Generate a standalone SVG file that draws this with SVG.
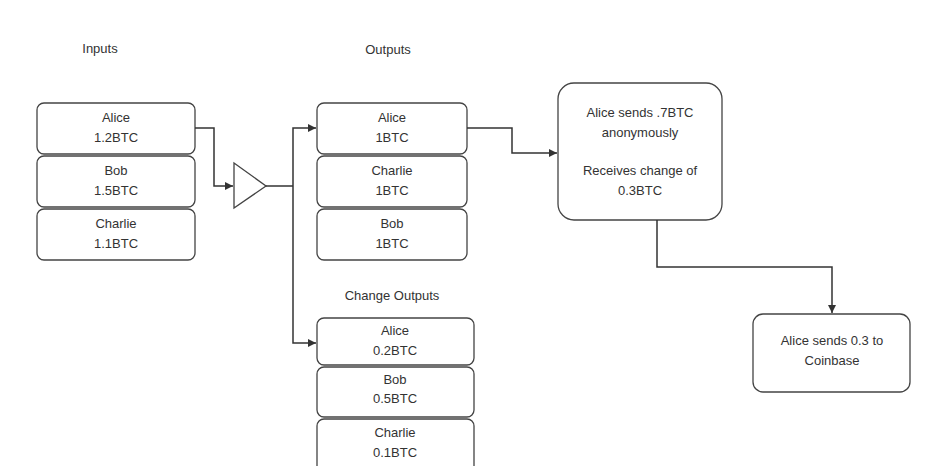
<svg xmlns="http://www.w3.org/2000/svg" width="933" height="466" viewBox="0 0 933 466">
<defs>
<marker id="ah" markerWidth="10" markerHeight="10" refX="9" refY="5" orient="auto" markerUnits="userSpaceOnUse">
<path d="M1,1 L9,5 L1,9 Z" fill="#333"/>
</marker>
<style>
.box{fill:#fff;stroke:#444;stroke-width:1.3}
.t{font-family:"Liberation Sans",Arial,sans-serif;font-size:13px;fill:#333;text-anchor:middle}
.c{fill:none;stroke:#333;stroke-width:1.5}
</style>
</defs>
<rect width="933" height="466" fill="#fff"/>
<text class="t" x="100" y="53">Inputs</text>
<text class="t" x="388" y="54">Outputs</text>
<text class="t" x="392" y="300">Change Outputs</text>
<g id="in-alice"><rect class="box" x="37" y="103" width="158" height="51" rx="7"/><text class="t" x="116" y="122">Alice</text><text class="t" x="116" y="142">1.2BTC</text></g>
<g id="in-bob"><rect class="box" x="37" y="156" width="158" height="51" rx="7"/><text class="t" x="116" y="175">Bob</text><text class="t" x="116" y="195">1.5BTC</text></g>
<g id="in-charlie"><rect class="box" x="37" y="209" width="158" height="51" rx="7"/><text class="t" x="116" y="228">Charlie</text><text class="t" x="116" y="248">1.1BTC</text></g>
<g id="mixer"><polygon points="234,163 266,186 234,208" fill="#fff" stroke="#444" stroke-width="1.3"/></g>
<g id="out-alice"><rect class="box" x="317" y="103" width="150" height="51" rx="7"/><text class="t" x="392" y="122">Alice</text><text class="t" x="392" y="142">1BTC</text></g>
<g id="out-charlie"><rect class="box" x="317" y="156" width="150" height="51" rx="7"/><text class="t" x="392" y="175">Charlie</text><text class="t" x="392" y="195">1BTC</text></g>
<g id="out-bob"><rect class="box" x="317" y="209" width="150" height="51" rx="7"/><text class="t" x="392" y="228">Bob</text><text class="t" x="392" y="248">1BTC</text></g>
<g id="ch-alice"><rect class="box" x="317" y="318" width="157" height="47" rx="7"/><text class="t" x="395" y="335">Alice</text><text class="t" x="395" y="355">0.2BTC</text></g>
<g id="ch-bob"><rect class="box" x="317" y="367" width="157" height="50" rx="7"/><text class="t" x="395" y="384">Bob</text><text class="t" x="395" y="403">0.5BTC</text></g>
<g id="ch-charlie"><rect class="box" x="317" y="419" width="157" height="55" rx="7"/><text class="t" x="395" y="437">Charlie</text><text class="t" x="395" y="457">0.1BTC</text></g>
<g id="alice-sends"><rect class="box" x="558" y="83" width="164" height="137" rx="16"/><text class="t" x="640" y="117">Alice sends .7BTC</text><text class="t" x="640" y="137">anonymously</text><text class="t" x="640" y="175">Receives change of</text><text class="t" x="640" y="195">0.3BTC</text></g>
<g id="coinbase"><rect class="box" x="753" y="314" width="157" height="78" rx="10"/><text class="t" x="832" y="345">Alice sends 0.3 to</text><text class="t" x="832" y="365">Coinbase</text></g>
<g id="connectors">
<path class="c" d="M195,128 H214 V186 H233" marker-end="url(#ah)"/>
<path class="c" d="M266,186 H293"/>
<path class="c" d="M293,186 V128 H316" marker-end="url(#ah)"/>
<path class="c" d="M293,186 V343 H316" marker-end="url(#ah)"/>
<path class="c" d="M467,128 H512 V153 H557" marker-end="url(#ah)"/>
<path class="c" d="M657,220 V267 H832 V313" marker-end="url(#ah)"/>
</g>
</svg>
